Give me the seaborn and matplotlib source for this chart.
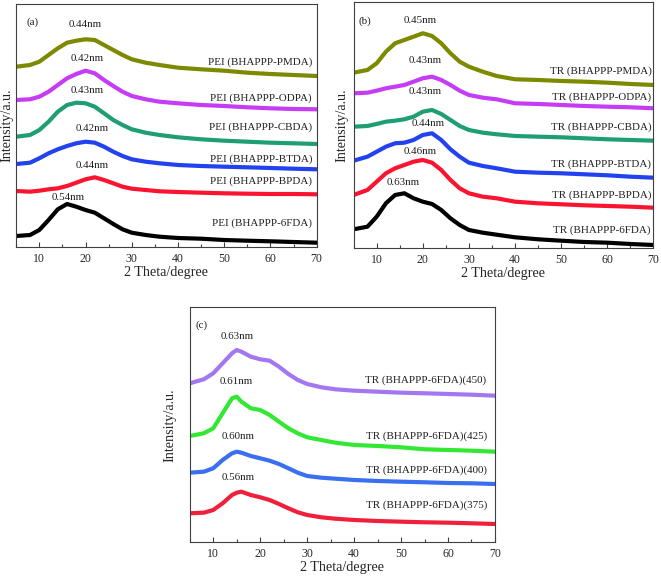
import matplotlib
matplotlib.use("Agg")
import matplotlib.pyplot as plt
import seaborn as sns
import pandas as pd
from matplotlib.ticker import MultipleLocator

# ---------------- data (arbitrary units) ----------------
theta_ab = [5, 8, 10, 12, 14, 16, 18, 20, 22, 24, 26, 28, 30, 33, 36, 40, 45, 50, 55, 60, 65, 70]
theta_c = [5, 8, 10, 12, 14, 15, 16, 18, 20, 22, 24, 26, 28, 30, 33, 36, 40, 45, 50, 55, 60, 65, 70]

names_a = ["PEI (BHAPPP-PMDA)", "PEI (BHAPPP-ODPA)", "PEI (BHAPPP-CBDA)",
           "PEI (BHAPPP-BTDA)", "PEI (BHAPPP-BPDA)", "PEI (BHAPPP-6FDA)"]
a_pmda = [180.3, 182, 185.3, 192, 198.7, 204.3, 206.3, 207.7, 207, 202, 197, 192, 187.7, 184.3, 182, 179.3, 177.7, 176.3, 174.3, 173, 172, 171]
a_odpa = [147, 147.7, 150.3, 155.3, 162, 168.7, 173, 176.3, 173.7, 167, 161, 155.3, 151, 147.7, 145.3, 143.7, 142, 141, 139.7, 138.7, 138, 137.7]
a_cbda = [110.3, 112, 117, 125.3, 135.3, 142, 144.3, 143.7, 140.3, 133.7, 127, 122, 117.7, 114.3, 112, 109.7, 107.7, 106.3, 105.3, 104.3, 103.7, 103]
a_btda = [83, 84.3, 88.7, 93.7, 97.7, 101, 103.7, 105.3, 104.3, 100.3, 95.3, 91, 87.7, 85.3, 83.7, 82, 81, 80.3, 79.7, 79, 78.3, 77.7]
a_bpda = [56, 55.3, 56.3, 57.7, 58.7, 61, 64.3, 67.7, 69.7, 67, 63.7, 60.3, 58.3, 57, 55.7, 55, 54.3, 53.7, 53.3, 53, 53, 52.7]
a_6fda = [11, 12, 17, 27, 37.7, 43, 40.3, 37, 34.3, 28.7, 23, 17.7, 14.3, 12, 10.3, 9, 8.3, 7, 6.3, 5.7, 5, 4.3]
d_a = ["0.44nm", "0.42nm", "0.43nm", "0.42nm", "0.44nm", "0.54nm"]

names_b = ["TR (BHAPPP-PMDA)", "TR (BHAPPP-ODPA)", "TR (BHAPPP-CBDA)",
           "TR (BHAPPP-BTDA)", "TR (BHAPPP-BPDA)", "TR (BHAPPP-6FDA)"]
b_pmda = [175.3, 178, 184.7, 196.3, 204.7, 208, 211.3, 214.7, 212, 204.7, 194.7, 186.3, 181.3, 176.3, 172, 168.7, 168, 167, 166.3, 165.3, 164, 163]
b_odpa = [154.7, 155.3, 157.3, 159.7, 161.3, 163, 166.3, 169.7, 171.3, 168, 163, 157.3, 153, 150.3, 148.7, 144.7, 144, 143, 142, 141.3, 140.7, 139.7]
b_cbda = [121.3, 122, 124, 126.3, 127.3, 128.7, 131.3, 136.3, 138, 134, 128, 122, 118, 115.3, 113.7, 112, 111.3, 110.7, 109.7, 108.7, 108, 107.3]
b_btda = [87.3, 91.3, 96.3, 101.3, 104.7, 105.3, 108, 113, 114.7, 108, 98.7, 91.3, 85.3, 82, 79.7, 76.3, 75.3, 74.7, 73.7, 72.7, 71.3, 70.3]
b_bpda = [53, 58, 66.3, 74.7, 79.7, 83, 86.3, 88, 85.3, 78, 68, 59.7, 54.7, 51.3, 49.7, 46.3, 44.7, 43.7, 42.7, 42, 41.3, 40.3]
b_6fda = [18.7, 21.3, 31.3, 44.7, 53, 54.7, 49.7, 46.3, 44, 38, 29.7, 23, 18, 15.3, 13.3, 10.7, 8.7, 7.3, 6, 5.3, 4, 3]
d_b = ["0.45nm", "0.43nm", "0.43nm", "0.44nm", "0.46nm", "0.63nm"]

names_c = ["TR (BHAPPP-6FDA)(450)", "TR (BHAPPP-6FDA)(425)",
           "TR (BHAPPP-6FDA)(400)", "TR (BHAPPP-6FDA)(375)"]
c_450 = [159, 163, 169, 179, 189, 192.3, 190.6, 185.6, 183, 181.6, 175.6, 168.3, 162.3, 158.3, 155, 153, 151.6, 150.6, 149.6, 149, 148.3, 147.6, 146.6]
c_425 = [106.3, 109, 114, 129, 144, 145.6, 140.6, 134, 132.3, 127.3, 120.6, 114, 109, 105, 102.3, 99.6, 97.3, 96.3, 95, 93, 92.3, 91.6, 90.6]
c_400 = [69.6, 70.6, 74, 82.3, 89, 90.6, 89.6, 86.3, 84, 81.6, 78.3, 74, 69.6, 66.3, 64.6, 63.6, 62.3, 61.3, 60.6, 60, 59.3, 59, 58.3]
c_375 = [29, 29.6, 32.3, 39, 47.3, 49.6, 50.6, 47.3, 45, 42.3, 38.3, 34, 30, 27.3, 25, 23.6, 22.3, 21.3, 20.6, 20, 19.6, 19, 18.3]
d_c = ["0.63nm", "0.61nm", "0.60nm", "0.56nm"]

# ---------------- styling ----------------
sns.set_style("ticks")
plt.rcParams["font.family"] = ["Liberation Serif", "DejaVu Serif"]
plt.rcParams["axes.edgecolor"] = "#404040"
plt.rcParams["axes.linewidth"] = 0.8

col_ab = ["#7d8a00", "#c63cf5", "#1f9e72", "#2242f0", "#fa1430", "#000000"]
col_c = ["#a377f0", "#33e833", "#3a6ff0", "#f0203c"]


def long_df(theta, series, names):
    rows = []
    for nm, ys in zip(names, series):
        for t, v in zip(theta, ys):
            rows.append((nm, t, v))
    return pd.DataFrame(rows, columns=["sample", "theta", "intensity"])


fig = plt.figure(figsize=(6.61, 5.79), dpi=100)
ax_a = fig.add_axes([0.0245, 0.5734, 0.4546, 0.4197])
ax_b = fig.add_axes([0.535, 0.5717, 0.4534, 0.4249])
ax_c = fig.add_axes([0.2871, 0.0634, 0.4617, 0.4059])

panels = [
    (ax_a, theta_ab, [a_pmda, a_odpa, a_cbda, a_btda, a_bpda, a_6fda], names_a, col_ab, d_a,
     243, "(a)", (8.6, 225), -0.009,
     [(69.0, 185), (69.0, 149), (69.0, 120), (69.0, 88), (69.0, 66), (69.0, 24)],
     [(19.9, 222), (20.3, 188), (20.3, 156), (21.4, 118), (21.4, 81), (16.2, 50)]),
    (ax_b, theta_ab, [b_pmda, b_odpa, b_cbda, b_btda, b_bpda, b_6fda], names_b, col_ab, d_b,
     246, "(b)", (7.5, 227), -0.019,
     [(69.6, 177), (69.6, 151), (69.6, 121), (69.6, 84), (69.6, 53), (69.4, 18)],
     [(19.4, 227), (20.5, 187), (20.5, 156), (21.2, 124), (19.4, 96), (15.8, 65)]),
    (ax_c, theta_c, [c_450, c_425, c_400, c_375], names_c, col_c, d_c,
     235, "(c)", (7.5, 217), -0.045,
     [(68.2, 162), (68.4, 106), (68.4, 72), (68.4, 37)],
     [(15.0, 206), (15.0, 161), (15.3, 106), (15.4, 65)]),
]

for ax, theta, series, names, cols, dvals, ytop, tag, tagpos, ylx, lab_pos, d_pos in panels:
    df = long_df(theta, series, names)
    sns.lineplot(data=df, x="theta", y="intensity", hue="sample", hue_order=names,
                 palette=cols, linewidth=3.0, legend=False, ax=ax, sort=False,
                 estimator=None)
    ax.set_xlim(5, 70)
    ax.set_ylim(0, ytop)
    ax.set_yticks([])
    ax.xaxis.set_major_locator(MultipleLocator(10))
    ax.xaxis.set_minor_locator(MultipleLocator(5))
    ax.tick_params(axis="x", which="major", direction="in", length=3.5, width=0.8,
                   labelsize=8.5, pad=4, color="#404040")
    ax.tick_params(axis="x", which="minor", direction="in", length=2.2, width=0.8,
                   color="#404040")
    ax.set_xlabel("2 Theta/degree", fontsize=10.2, labelpad=1)
    ax.set_ylabel("Intensity/a.u.", fontsize=10.2)
    ax.yaxis.set_label_coords(ylx, 0.5)
    for nm, (x, y) in zip(names, lab_pos):
        ax.text(x, y, nm, ha="right", va="center", fontsize=7.9, color="#202020")
    for dv, (x, y) in zip(dvals, d_pos):
        ax.text(x, y, dv, ha="center", va="center", fontsize=7.9, color="#202020")
    ax.text(tagpos[0], tagpos[1], tag, ha="center", va="center", fontsize=7.9,
            color="#202020")

fig.savefig("out.png", dpi=100)
